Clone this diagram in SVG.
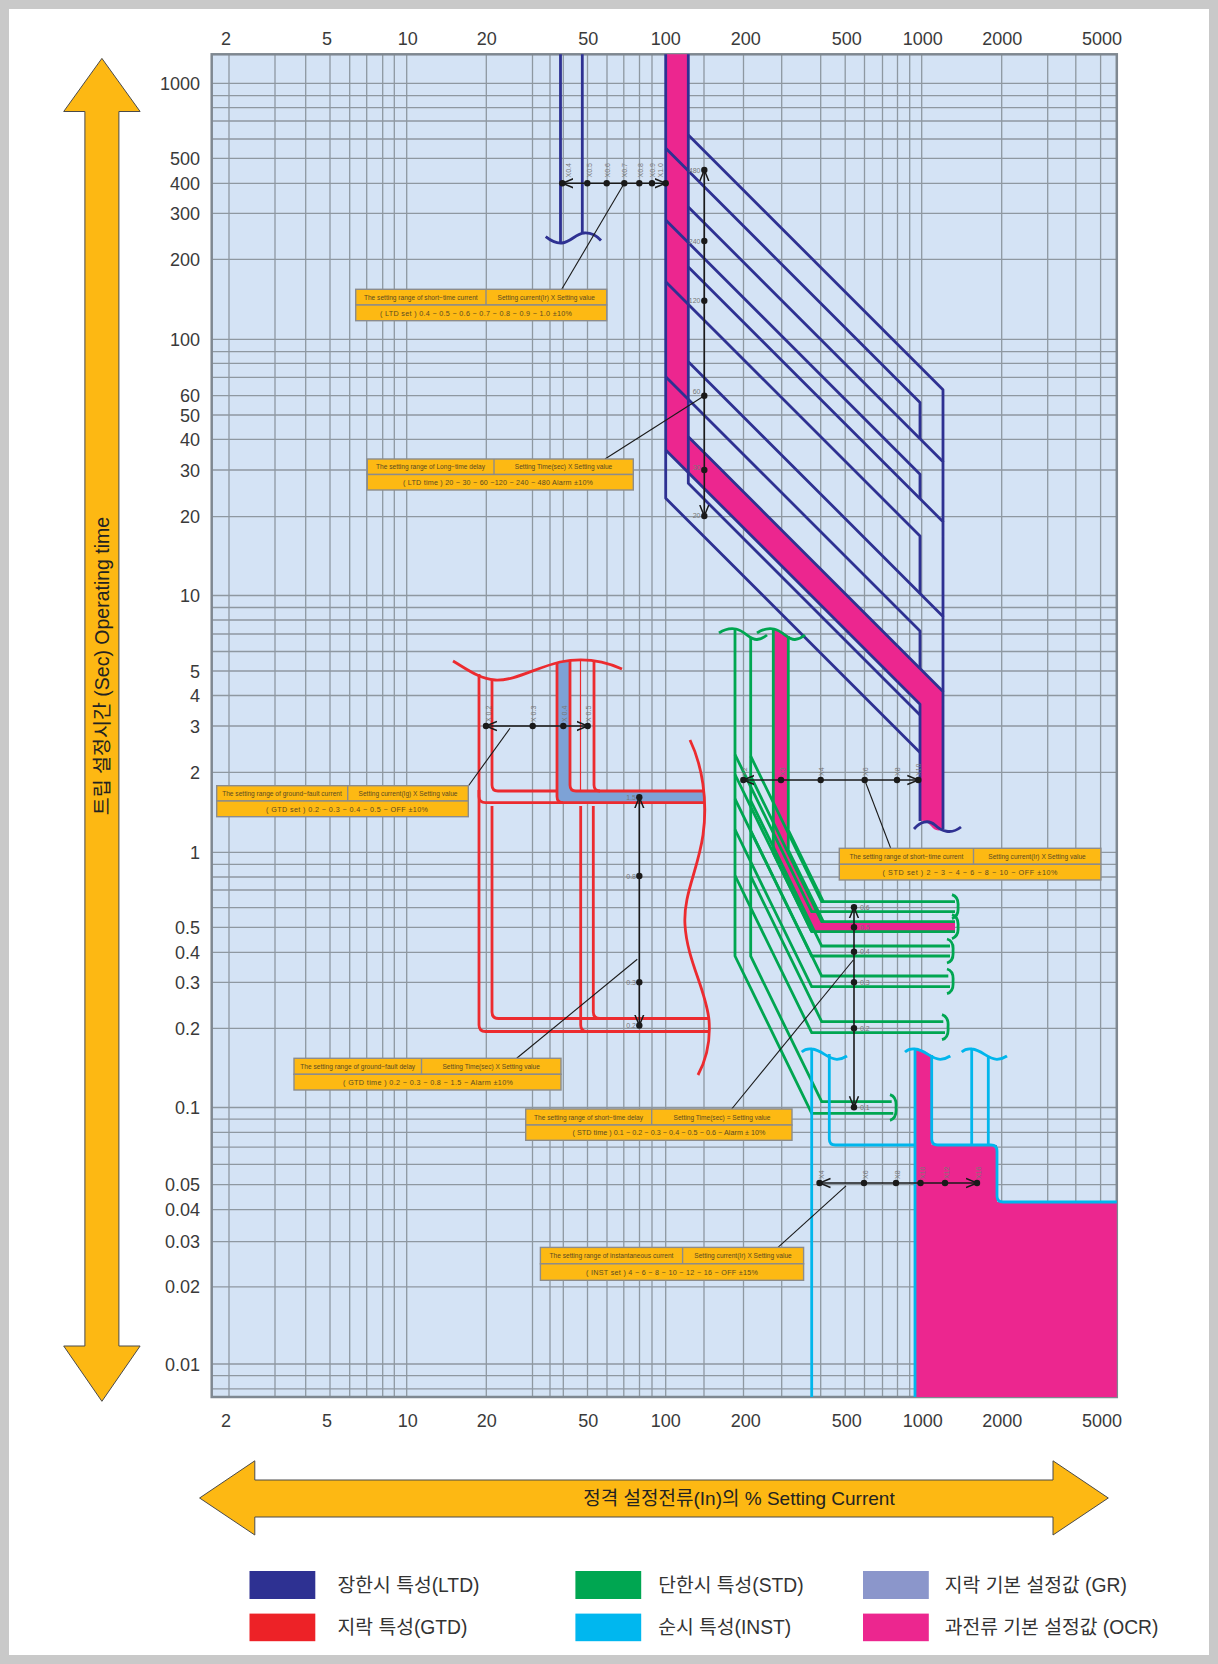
<svg xmlns="http://www.w3.org/2000/svg" width="1218" height="1664" viewBox="0 0 1218 1664">
<defs>
<style>
.grid{stroke:#8e98a1;stroke-width:1.3;fill:none}
.ax{font-family:"Liberation Sans","Noto Sans CJK KR",sans-serif;font-size:18px;fill:#3a3a3a}
.axe{text-anchor:end}
.axm{text-anchor:middle}
.ltd{stroke:#2e3192;stroke-width:2.8;fill:none;stroke-linejoin:round}
.gtd{stroke:#ec2b2f;stroke-width:2.8;fill:none}
.std{stroke:#00a651;stroke-width:2.8;fill:none}
.inst{stroke:#00b6ec;stroke-width:2.8;fill:none}
.ocr{fill:#ec268f}
.gr{fill:#7da2d6}
.bx{fill:#fdb913;stroke:#8c8c8c;stroke-width:1.4}
.bt{font-family:"Liberation Sans",sans-serif;font-size:6.6px;fill:#5b4a22;text-anchor:middle}
.bt2{font-family:"Liberation Sans",sans-serif;font-size:7.2px;fill:#5b4a22;text-anchor:middle}
.ld{stroke:#1a1a1a;stroke-width:1.1;fill:none}
.mk{stroke:#1a1a1a;stroke-width:1.6;fill:none}
.dot{fill:#1a1a1a}
.ml{font-family:"Liberation Sans",sans-serif;font-size:7px;fill:#777}
.mle{font-family:"Liberation Sans",sans-serif;font-size:7px;fill:#777;text-anchor:end}
.big{fill:#fdb813;stroke:#4a4a4a;stroke-width:1}
.lg{font-family:"Liberation Sans","Noto Sans CJK KR",sans-serif;font-size:19.3px;fill:#333}
</style>
<marker id="ah" viewBox="0 0 12 12" refX="11" refY="6" markerWidth="12" markerHeight="12" markerUnits="userSpaceOnUse" orient="auto-start-reverse"><path d="M0,1.5 L11,6 L0,10.5" fill="none" stroke="#1a1a1a" stroke-width="1.5"/></marker>
</defs>

<rect x="4.5" y="4.5" width="1209" height="1655" fill="#ffffff" stroke="#c9c9c9" stroke-width="9"/>

<g id="plot">
<rect x="211.7" y="54.3" width="905.1" height="1342.7" fill="#d4e3f5"/>
<path class="grid" d="M229,54.3V1397M275,54.3V1397M305.7,54.3V1397M330,54.3V1397M349.7,54.3V1397M366.7,54.3V1397M382.7,54.3V1397M394.3,54.3V1397M406.7,54.3V1397M486.3,54.3V1397M532.5,54.3V1397M550,54.3V1397M563.3,54.3V1397M587.5,54.3V1397M607,54.3V1397M623.8,54.3V1397M639.5,54.3V1397M652,54.3V1397M665.7,54.3V1397M704,54.3V1397M743.5,54.3V1397M781.7,54.3V1397M820.7,54.3V1397M845.2,54.3V1397M864.5,54.3V1397M882.5,54.3V1397M897.5,54.3V1397M909.7,54.3V1397M921.7,54.3V1397M1001.7,54.3V1397M1047.7,54.3V1397M1075.8,54.3V1397M1100.6,54.3V1397"/>
<path class="grid" d="M211.7,83.3H1116.8M211.7,95.7H1116.8M211.7,107.7H1116.8M211.7,121H1116.8M211.7,139H1116.8M211.7,158.3H1116.8M211.7,183.3H1116.8M211.7,213.3H1116.8M211.7,259.3H1116.8M211.7,339.3H1116.8M211.7,351.7H1116.8M211.7,363.3H1116.8M211.7,377.3H1116.8M211.7,395.7H1116.8M211.7,415H1116.8M211.7,439.3H1116.8M211.7,470H1116.8M211.7,516.7H1116.8M211.7,595.5H1116.8M211.7,607.5H1116.8M211.7,620H1116.8M211.7,634H1116.8M211.7,651.5H1116.8M211.7,671H1116.8M211.7,695.5H1116.8M211.7,726H1116.8M211.7,772.3H1116.8M211.7,852.3H1116.8M211.7,864.3H1116.8M211.7,877H1116.8M211.7,890H1116.8M211.7,907.7H1116.8M211.7,927.3H1116.8M211.7,952.3H1116.8M211.7,982.3H1116.8M211.7,1028.3H1116.8M211.7,1107.5H1116.8M211.7,1119.2H1116.8M211.7,1132.4H1116.8M211.7,1147.2H1116.8M211.7,1164.4H1116.8M211.7,1184.7H1116.8M211.7,1209.6H1116.8M211.7,1241.7H1116.8M211.7,1286.9H1116.8M211.7,1364H1116.8M211.7,1375.7H1116.8M211.7,1388.9H1116.8"/>
<rect x="211.7" y="54.3" width="905.1" height="1342.7" fill="none" stroke="#7f8891" stroke-width="2.5"/>
</g>

<g id="axis-labels" class="ax">
<text class="axm" x="226" y="44.5">2</text><text class="axm" x="327" y="44.5">5</text><text class="axm" x="407.7" y="44.5">10</text><text class="axm" x="486.7" y="44.5">20</text><text class="axm" x="588.3" y="44.5">50</text><text class="axm" x="665.7" y="44.5">100</text><text class="axm" x="745.7" y="44.5">200</text><text class="axm" x="846.7" y="44.5">500</text><text class="axm" x="922.7" y="44.5">1000</text><text class="axm" x="1002.3" y="44.5">2000</text><text class="axm" x="1102" y="44.5">5000</text>
<text class="axm" x="226" y="1427">2</text><text class="axm" x="327" y="1427">5</text><text class="axm" x="407.7" y="1427">10</text><text class="axm" x="486.7" y="1427">20</text><text class="axm" x="588.3" y="1427">50</text><text class="axm" x="665.7" y="1427">100</text><text class="axm" x="745.7" y="1427">200</text><text class="axm" x="846.7" y="1427">500</text><text class="axm" x="922.7" y="1427">1000</text><text class="axm" x="1002.3" y="1427">2000</text><text class="axm" x="1102" y="1427">5000</text>
<text class="axe" x="200" y="89.8">1000</text><text class="axe" x="200" y="164.8">500</text><text class="axe" x="200" y="189.8">400</text><text class="axe" x="200" y="219.8">300</text><text class="axe" x="200" y="265.8">200</text><text class="axe" x="200" y="345.8">100</text><text class="axe" x="200" y="402.2">60</text><text class="axe" x="200" y="421.5">50</text><text class="axe" x="200" y="445.8">40</text><text class="axe" x="200" y="476.5">30</text><text class="axe" x="200" y="523.2">20</text><text class="axe" x="200" y="602">10</text><text class="axe" x="200" y="677.5">5</text><text class="axe" x="200" y="702">4</text><text class="axe" x="200" y="732.5">3</text><text class="axe" x="200" y="778.8">2</text><text class="axe" x="200" y="858.8">1</text><text class="axe" x="200" y="933.8">0.5</text><text class="axe" x="200" y="958.8">0.4</text><text class="axe" x="200" y="988.8">0.3</text><text class="axe" x="200" y="1034.8">0.2</text><text class="axe" x="200" y="1114">0.1</text><text class="axe" x="200" y="1191.2">0.05</text><text class="axe" x="200" y="1216.1">0.04</text><text class="axe" x="200" y="1248.2">0.03</text><text class="axe" x="200" y="1293.4">0.02</text><text class="axe" x="200" y="1370.5">0.01</text>
</g>

<g id="ltd">
<path class="ocr" d="M665.7,54.3 H688.3 V436.7 L943,691.4 V829 C938,832 934,830 931,826 C927,821 923,820 920,821 V704.3 L665.7,450 Z"/>
<path class="ltd" d="M560.5,54.3 V243 M582.3,54.3 V233"/>
<path class="ltd" d="M545.7,236.7 C551,241 556,243.5 562,243 C571,242 576,233.5 584,233 C591,232.5 597,236 601,240.5"/>
<path class="ltd" d="M665.7,54.3 V498.3 L920,752.6"/>
<path class="ltd" d="M688.3,54.3 V483.3 L920,715"/>
<path class="ltd" d="M688.3,135 L943,389.7 V461.7 M665.7,148.3 L920,402.6 V438.7"/>
<path class="ltd" d="M688.3,207 L943,461.7 V521.7 M665.7,220 L920,474.3 V498.7"/>
<path class="ltd" d="M688.3,267 L943,521.7 V616.4 M665.7,281.7 L920,536 V593.4"/>
<path class="ltd" d="M688.3,361.7 L943,616.4 V691.4 M665.7,376.7 L920,631 V668.4"/>
<path class="ltd" d="M688.3,436.7 L943,691.4 V829 M665.7,450 L920,704.3 V821"/>
<path class="ltd" d="M914,829 C920,822 928,819 935,825 C941,831 951,835 961,827"/>
</g>

<g id="gtd">
<path class="gr" d="M557,663 C561,661.5 566,660.8 570,660.5 V785 Q570,791 576,791 H705 V802.7 H563 Q557,802.7 557,796.5 Z"/>
<path class="gtd" d="M453,661 C468,670 480,679 495,680 C515,681 535,668 560,662 C580,658 602,660 622,669"/>
<path class="gtd" d="M479,674 V1025 Q479,1031.5 485.5,1031.5 H709"/>
<path class="gtd" d="M479,790 V796.5 Q479,802.7 485.5,802.7 H705"/>
<path class="gtd" d="M492,680 V785 Q492,791 498,791 H557"/>
<path class="gtd" d="M492,806 V1012 Q492,1018.5 498.5,1018.5 H708"/>
<path class="gtd" d="M557,663 V796.5 Q557,802.7 563,802.7"/>
<path class="gtd" d="M570,660.5 V785 Q570,791 576,791 H705"/>
<path class="gtd" style="stroke-width:1.2" d="M580.5,659.5 V791"/>
<path class="gtd" d="M594,660 V785 Q594,791 600,791"/>
<path class="gtd" d="M580.7,806 V1025 Q580.7,1031.5 587,1031.5 M593.3,806 V1012 Q593.3,1018.5 600,1018.5"/>
<path class="gtd" d="M690,740 C702,765 708,800 703,835 C698,870 683,895 685,925 C687,960 706,990 709,1020 C711,1045 705,1062 698,1075"/>
</g>

<g id="std">
<path class="ocr" d="M773.3,629.5 C778,629.5 784,632 788.3,636 V850 L823.3,921.7 H955 V931.7 H811.7 L773.3,853 Z"/>
<path class="std" d="M719,633 C725,629 731,628 736,629 C745,631 750,640 757,639.5 C761,639 764,637.5 767,635"/>
<path class="std" d="M757,633 C763,629 769,628 774,629 C783,631 788,640 795,639.5 C799,639 802,637.5 805,635"/>
<path class="std" d="M735,629.5 V956 L811.7,1113.3 H893.3"/>
<path class="std" d="M750.7,637.5 V956.2 L821.7,1101.7 H891.7"/>
<path class="std" d="M735,754.5 L811.7,911.7 H955 M750.7,756.2 L821.7,901.7 H955"/>
<path class="std" d="M735,774.5 L811.7,931.7 H955 M750.7,776.2 L821.7,921.7 H955"/>
<path class="std" d="M735,798.8 L811.7,956 H950 M750.7,800.5 L821.7,946 H950"/>
<path class="std" d="M735,829.5 L811.7,986.7 H950 M750.7,830.5 L821.7,976 H948.3"/>
<path class="std" d="M735,875.5 L811.7,1032.7 H945 M750.7,876.2 L821.7,1021.7 H943.3"/>
<path class="std" d="M773.3,629.3 V853 L811.7,931.7"/>
<path class="std" d="M788.3,636 V850 L823.3,921.7 M788.3,830 L823.3,901.7"/>
<path class="std" d="M952,894.7 Q959,897 958,906.7 Q959,916 952,918.7 M952,914.7 Q959,917 958,926.7 Q959,936 952,938.7 M947,939 Q954,941 953,951 Q954,961 947,963 M947,969 Q954,971 953,981.3 Q954,991.7 947,993.7 M942,1014.7 Q949,1017 948,1027.2 Q949,1037.7 942,1039.7 M890,1094.7 Q897,1097 896,1107.5 Q897,1118.3 890,1120.3"/>
</g>

<g id="inst">
<path class="ocr" d="M915,1049 C921,1049 926,1052 931.7,1055 V1145 H997 V1202 H1116.8 V1397 H915 Z"/>
<path class="inst" d="M801.7,1052 C805,1049 808,1048.5 812,1049 C822,1050 828,1059.5 837,1059.3 C841,1059 844,1058 847,1056"/>
<path class="inst" d="M905,1052 C908.3,1049 911.3,1048.5 915.3,1049 C925.3,1050 931.3,1059.5 940.3,1059.3 C944.3,1059 947.3,1058 950.3,1056"/>
<path class="inst" d="M961.7,1052 C965,1049 968,1048.5 972,1049 C982,1050 988,1059.5 997,1059.3 C1001,1059 1004,1058 1007,1056"/>
<path class="inst" d="M811.7,1049 V1397"/>
<path class="inst" d="M829.3,1054 V1139 Q829.3,1145 835.3,1145 H915"/>
<path class="inst" d="M915,1049 V1397"/>
<path class="inst" d="M931.7,1055 V1139 Q931.7,1145 937.7,1145 H991 Q997,1145 997,1151 V1196 Q997,1202 1003,1202 H1116.8"/>
<path class="inst" d="M971.7,1049 V1145 M988.3,1056 V1145"/>
</g>

<g id="markers">
<path class="mk" marker-start="url(#ah)" marker-end="url(#ah)" d="M562.3,183.3 H665.7"/>
<g class="dot"><circle cx="562.3" cy="183.3" r="3.2"/><circle cx="587.3" cy="183.3" r="3.2"/><circle cx="606.7" cy="183.3" r="3.2"/><circle cx="624.3" cy="183.3" r="3.2"/><circle cx="639.3" cy="183.3" r="3.2"/><circle cx="652" cy="183.3" r="3.2"/><circle cx="665.7" cy="183.3" r="3.2"/></g>
<g class="ml">
<text transform="translate(570.7,177.5) rotate(-90)">X0.4</text><text transform="translate(591.5,177.5) rotate(-90)">X0.5</text><text transform="translate(610,177.5) rotate(-90)">X0.6</text><text transform="translate(626.7,177.5) rotate(-90)">X0.7</text><text transform="translate(642.7,177.5) rotate(-90)">X0.8</text><text transform="translate(654.5,177.5) rotate(-90)">X0.9</text><text transform="translate(663.3,177.5) rotate(-90)">X1.0</text>
</g>
<path class="mk" marker-start="url(#ah)" marker-end="url(#ah)" d="M704.3,170 V516"/>
<g class="dot"><circle cx="704.3" cy="170" r="3.2"/><circle cx="704.3" cy="241" r="3.2"/><circle cx="704.3" cy="300.7" r="3.2"/><circle cx="704.3" cy="395.7" r="3.2"/><circle cx="704.3" cy="470" r="3.2"/><circle cx="704.3" cy="516" r="3.2"/></g>
<g class="mle"><text x="700.5" y="172.5">480</text><text x="700.5" y="243.5">240</text><text x="700.5" y="303.2">120</text><text x="700.5" y="394">60</text><text x="700.5" y="470">30</text><text x="700.5" y="517.5">20</text></g>

<path class="mk" marker-start="url(#ah)" marker-end="url(#ah)" d="M486,726 H587.7"/>
<g class="dot"><circle cx="486" cy="726" r="3.2"/><circle cx="532.7" cy="726" r="3.2"/><circle cx="563.3" cy="726" r="3.2"/><circle cx="587.7" cy="726" r="3.2"/></g>
<g class="ml"><text transform="translate(490.5,722) rotate(-90)">X 0.2</text><text transform="translate(536,722) rotate(-90)">X 0.3</text><text transform="translate(566.7,722) rotate(-90)">X 0.4</text><text transform="translate(590.7,722) rotate(-90)">X 0.5</text></g>
<path class="mk" marker-start="url(#ah)" marker-end="url(#ah)" d="M639.3,797.3 V1025.5"/>
<g class="dot"><circle cx="639.3" cy="797.3" r="3.2"/><circle cx="639.3" cy="876" r="3.2"/><circle cx="639.3" cy="982.3" r="3.2"/><circle cx="639.3" cy="1025.5" r="3.2"/></g>
<g class="mle"><text x="636" y="799.8">1.5</text><text x="636" y="878.5">0.8</text><text x="636" y="984.8">0.3</text><text x="636" y="1028">0.2</text></g>

<path class="mk" marker-start="url(#ah)" marker-end="url(#ah)" d="M743.3,780 H918.3"/>
<g class="dot"><circle cx="743.3" cy="780" r="3.2"/><circle cx="781" cy="780" r="3.2"/><circle cx="820.7" cy="780" r="3.2"/><circle cx="864.7" cy="780" r="3.2"/><circle cx="897" cy="780" r="3.2"/><circle cx="918.3" cy="780" r="3.2"/></g>
<g class="ml"><text transform="translate(747.3,776) rotate(-90)">X2</text><text transform="translate(784.5,776) rotate(-90)">X3</text><text transform="translate(824,776) rotate(-90)">X4</text><text transform="translate(867.5,776) rotate(-90)">X6</text><text transform="translate(900,776) rotate(-90)">X8</text><text transform="translate(920.5,776) rotate(-90)">X10</text></g>
<path class="mk" marker-start="url(#ah)" marker-end="url(#ah)" d="M854,907.3 V1107.3"/>
<g class="dot"><circle cx="854" cy="907.3" r="3.2"/><circle cx="854" cy="927.3" r="3.2"/><circle cx="854" cy="951.7" r="3.2"/><circle cx="854" cy="982.3" r="3.2"/><circle cx="854" cy="1028.3" r="3.2"/><circle cx="854" cy="1107.3" r="3.2"/></g>
<g class="ml"><text x="860" y="909.8">0.6</text><text x="860" y="929.8">0.5</text><text x="860" y="954.2">0.4</text><text x="860" y="984.8">0.3</text><text x="860" y="1030.8">0.2</text><text x="860" y="1109.8">0.1</text></g>

<path class="mk" marker-start="url(#ah)" marker-end="url(#ah)" d="M819.5,1183 H977"/>
<g class="dot"><circle cx="819.5" cy="1183" r="3.2"/><circle cx="864" cy="1183" r="3.2"/><circle cx="896" cy="1183" r="3.2"/><circle cx="920.5" cy="1183" r="3.2"/><circle cx="945" cy="1183" r="3.2"/><circle cx="977" cy="1183" r="3.2"/></g>
<g class="ml"><text transform="translate(823.5,1179) rotate(-90)">X4</text><text transform="translate(868,1179) rotate(-90)">X6</text><text transform="translate(900,1179) rotate(-90)">X8</text><text transform="translate(924.5,1179) rotate(-90)">X10</text><text transform="translate(949,1179) rotate(-90)">X12</text><text transform="translate(981,1179) rotate(-90)">X16</text></g>
</g>

<g id="connectors">
<path class="ld" d="M561.7,289.3 L624.3,183.3"/>
<path class="ld" d="M605,459 L704.3,395.7"/>
<path class="ld" d="M468.3,786 L510,728.3"/>
<path class="ld" d="M516.7,1058.3 L637.3,959.3"/>
<path class="ld" d="M890.7,848.3 L864.7,780"/>
<path class="ld" d="M731.7,1109 L853.3,960"/>
<path class="ld" d="M778,1247.4 L846,1185.8"/>
</g>

<g id="box-ltd-set">
<rect class="bx" x="355.7" y="289.3" width="251" height="15.7"/><rect class="bx" x="355.7" y="305" width="251" height="15.7"/>
<line x1="486" y1="289.3" x2="486" y2="305" stroke="#8c8c8c" stroke-width="1.4"/>
<text class="bt" x="420.8" y="299.5">The setting range of short−time current</text>
<text class="bt" x="546.3" y="299.5">Setting current(Ir) X Setting value</text>
<text class="bt2" x="476" y="315.5" textLength="192" lengthAdjust="spacing">( LTD set ) 0.4 − 0.5 − 0.6 − 0.7 − 0.8 − 0.9 − 1.0   ±10%</text>
</g>
<g id="box-ltd-time">
<rect class="bx" x="367.3" y="459" width="266" height="15.5"/><rect class="bx" x="367.3" y="474.5" width="266" height="15.5"/>
<line x1="494" y1="459" x2="494" y2="474.5" stroke="#8c8c8c" stroke-width="1.4"/>
<text class="bt" x="430.5" y="469.2">The setting range of Long−time delay</text>
<text class="bt" x="563.5" y="469.2">Setting Time(sec) X Setting value</text>
<text class="bt2" x="498" y="485" textLength="190" lengthAdjust="spacing">( LTD time ) 20 − 30 − 60 −120 − 240 − 480  Alarm  ±10%</text>
</g>
<g id="box-gtd-set">
<rect class="bx" x="216.7" y="785.7" width="251.6" height="15.3"/><rect class="bx" x="216.7" y="801" width="251.6" height="15.7"/>
<line x1="347.7" y1="785.7" x2="347.7" y2="801" stroke="#8c8c8c" stroke-width="1.4"/>
<text class="bt" x="282" y="796">The setting range of ground−fault current</text>
<text class="bt" x="408" y="796">Setting current(Ig) X Setting value</text>
<text class="bt2" x="347" y="811.8" textLength="162" lengthAdjust="spacing">( GTD set )  0.2 −  0.3 −  0.4 − 0.5 − OFF  ±10%</text>
</g>
<g id="box-std-set">
<rect class="bx" x="839.3" y="848.3" width="261.6" height="16"/><rect class="bx" x="839.3" y="864.3" width="261.6" height="15.7"/>
<line x1="973.5" y1="848.3" x2="973.5" y2="864.3" stroke="#8c8c8c" stroke-width="1.4"/>
<text class="bt" x="906.4" y="858.8">The setting range of short−time current</text>
<text class="bt" x="1037" y="858.8">Setting current(Ir) X Setting value</text>
<text class="bt2" x="970" y="874.8" textLength="175" lengthAdjust="spacing">( STD set )  2 −  3 −  4 −  6 −  8 − 10 − OFF  ±10%</text>
</g>
<g id="box-gtd-time">
<rect class="bx" x="294" y="1058.3" width="267" height="16"/><rect class="bx" x="294" y="1074.3" width="267" height="15.7"/>
<line x1="421.5" y1="1058.3" x2="421.5" y2="1074.3" stroke="#8c8c8c" stroke-width="1.4"/>
<text class="bt" x="357.7" y="1068.8">The setting range of ground−fault delay</text>
<text class="bt" x="491.2" y="1068.8">Setting Time(sec) X Setting value</text>
<text class="bt2" x="428" y="1084.8" textLength="170" lengthAdjust="spacing">( GTD time )  0.2 − 0.3 −  0.8 −  1.5 − Alarm  ±10%</text>
</g>
<g id="box-std-time">
<rect class="bx" x="525.7" y="1109" width="266.3" height="16"/><rect class="bx" x="525.7" y="1125" width="266.3" height="15.3"/>
<line x1="651.7" y1="1109" x2="651.7" y2="1125" stroke="#8c8c8c" stroke-width="1.4"/>
<text class="bt" x="588.5" y="1119.5">The setting range of short−time delay</text>
<text class="bt" x="722" y="1119.5">Setting Time(sec) = Setting value</text>
<text class="bt2" x="669" y="1135.3" textLength="193" lengthAdjust="spacing">( STD time )  0.1 − 0.2 − 0.3 − 0.4 − 0.5 − 0.6 − Alarm ± 10%</text>
</g>
<g id="box-inst-set">
<rect class="bx" x="540.4" y="1247.4" width="263.2" height="16.4"/><rect class="bx" x="540.4" y="1263.8" width="263.2" height="16.5"/>
<line x1="682.6" y1="1247.4" x2="682.6" y2="1263.8" stroke="#8c8c8c" stroke-width="1.4"/>
<text class="bt" x="611.5" y="1258.1">The setting range of instantaneous current</text>
<text class="bt" x="743" y="1258.1">Setting current(Ir) X Setting value</text>
<text class="bt2" x="672" y="1274.5" textLength="172" lengthAdjust="spacing">( INST set )  4 − 6 − 8 − 10 − 12 − 16 − OFF  ±15%</text>
</g>

<g id="axis-arrow-y">
<path class="big" d="M101.9,58.4 L140.1,111.5 L118.9,111.5 L118.9,1346 L140.1,1346 L101.9,1401.3 L63.7,1346 L84.9,1346 L84.9,111.5 L63.7,111.5 Z"/>
<text class="ax" style="fill:#222;font-size:19.5px" text-anchor="middle" transform="translate(108.8,666) rotate(-90)">트립 설정시간 (Sec)  Operating time</text>
</g>
<g id="axis-arrow-x">
<path class="big" d="M199.6,1498 L254.8,1460.8 L254.8,1480 L1053,1480 L1053,1460.8 L1108.3,1498 L1053,1535 L1053,1517 L254.8,1517 L254.8,1535 Z"/>
<text class="ax" style="fill:#222;font-size:19px" text-anchor="middle" x="739" y="1505">정격 설정전류(In)의 % Setting Current</text>
</g>

<g id="legend">
<rect x="249.5" y="1571" width="65.8" height="28" fill="#2e3192"/>
<text class="lg" x="337.6" y="1591.7">장한시 특성(LTD)</text>
<rect x="249.5" y="1613.6" width="65.8" height="27.6" fill="#ed2227"/>
<text class="lg" x="337.6" y="1634">지락 특성(GTD)</text>
<rect x="575.4" y="1571" width="65.8" height="28" fill="#00a651"/>
<text class="lg" x="658.2" y="1591.7">단한시 특성(STD)</text>
<rect x="575.4" y="1613.6" width="65.8" height="27.6" fill="#00b7ef"/>
<text class="lg" x="658.2" y="1634">순시 특성(INST)</text>
<rect x="863" y="1571" width="65.8" height="28" fill="#8b96cb"/>
<text class="lg" x="944.8" y="1591.7">지락 기본 설정값 (GR)</text>
<rect x="863" y="1613.6" width="65.8" height="27.6" fill="#ec268f"/>
<text class="lg" x="944.8" y="1634">과전류 기본 설정값 (OCR)</text>
</g>
</svg>
